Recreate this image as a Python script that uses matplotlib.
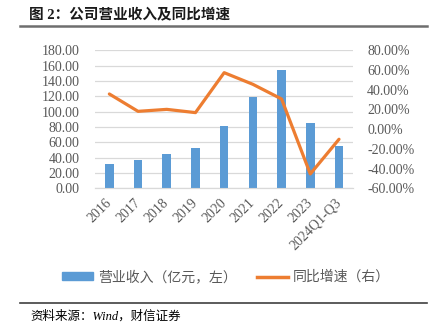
import matplotlib.pyplot as plt
from matplotlib.lines import Line2D
from matplotlib.patches import Patch
from matplotlib.ticker import FuncFormatter

plt.rcParams["font.family"] = ["Liberation Serif", "Noto Sans CJK SC", "DejaVu Sans"]

# %% Data
years = ["2016", "2017", "2018", "2019", "2020", "2021", "2022", "2023", "2024Q1-Q3"]
revenue = [31.3, 37.4, 44.9, 52.2, 81.8, 119.2, 154.4, 85.3, 55.7]  # 亿元
growth = [35.6, 18.0, 20.0, 16.7, 57.2, 45.4, 30.5, -45.5, -10.3]  # %

bar_color = "#5B9BD5"
line_color = "#ED7D31"
text_color = "#595959"
grid_color = "#D9D9D9"
cjk = ["Noto Sans CJK SC", "DejaVu Sans"]
serif_cjk = ["Liberation Serif", "Noto Sans CJK SC"]

# %% Figure
fig = plt.figure(figsize=(4.47, 3.28), dpi=100)
ax = fig.add_axes([0.2125, 0.426, 0.578, 0.421])
ax2 = ax.twinx()

x = range(len(years))
ax.bar(x, revenue, width=0.3, color=bar_color, zorder=3)
ax2.plot(x, growth, color=line_color, lw=2.3, solid_capstyle="round", zorder=4)

ax.set_xlim(-0.5, len(years) - 0.5)
ax.set_ylim(0, 180)
ax.set_yticks(range(0, 181, 20))
ax.yaxis.set_major_formatter(FuncFormatter(lambda v, _: f"{v:.2f}"))
ax2.set_ylim(-60, 80)
ax2.set_yticks(range(-60, 81, 20))
ax2.yaxis.set_major_formatter(FuncFormatter(lambda v, _: f"{v:.2f}%"))

ax.grid(axis="y", color=grid_color, lw=0.9, zorder=0)
for a in (ax, ax2):
    for side in ("top", "left", "right"):
        a.spines[side].set_visible(False)
    a.spines["bottom"].set_color(grid_color)
    a.tick_params(length=0, labelsize=10, labelcolor=text_color)
ax.tick_params(axis="y", pad=11)
ax2.tick_params(axis="y", pad=10)

ax.set_xticks(list(x))
ax.set_xticklabels(years, rotation=45, ha="right", va="center",
                   rotation_mode="anchor")
ax.tick_params(axis="x", pad=9)

# Legend
handles = [
    Patch(color=bar_color, label="营业收入（亿元，左）"),
    Line2D([0], [0], color=line_color, lw=2.5, label="同比增速（右）"),
]
leg = fig.legend(handles=handles, loc="center", bbox_to_anchor=(0.506, 0.155),
                 ncol=2, frameon=False, handlelength=2.2, handleheight=0.45,
                 handletextpad=0.35, columnspacing=1.5,
                 prop={"family": cjk, "size": 10})
for t in leg.get_texts():
    t.set_color(text_color)

# Title, rules and source
fig.text(0.065, 0.957, "图 2：公司营业收入及同比增速", family=serif_cjk,
         fontsize=10.5, fontweight="bold", va="center", ha="left", color="#1A1A1A")
fig.add_artist(Line2D([0.045, 0.955], [0.921, 0.921], color="#6E6E6E", lw=1.8))
fig.add_artist(Line2D([0.045, 0.955], [0.077, 0.077], color="#404040", lw=1.2))
fig.text(0.068, 0.035, "资料来源：Wind，财信证券", family=serif_cjk, fontsize=9,
         style="italic", va="center", ha="left")

fig.savefig("out.png", dpi=100)
